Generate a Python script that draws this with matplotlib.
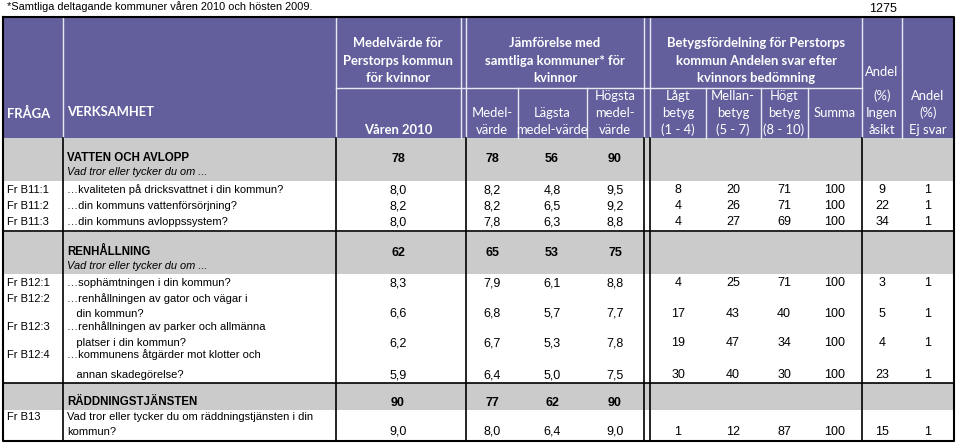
import matplotlib
matplotlib.use("Agg")
import matplotlib.pyplot as plt
from matplotlib.patches import Rectangle

# ---------------- data ----------------
footnote = "*Samtliga deltagande kommuner våren 2010 och hösten 2009."
n_respondents = "1275"

section_titles = ["VATTEN OCH AVLOPP", "RENHÅLLNING", "RÄDDNINGSTJÄNSTEN"]
section_subtitle = ["Vad tror eller tycker du om ...", "Vad tror eller tycker du om ...", ""]
section_index = [78, 62, 90]
section_mean = [78, 65, 77]
section_low = [56, 53, 62]
section_high = [90, 75, 90]

question_codes = ["Fr B11:1", "Fr B11:2", "Fr B11:3", "Fr B12:1",
                  "Fr B12:2", "Fr B12:3", "Fr B12:4", "Fr B13"]
question_texts = [
    ["…kvaliteten på dricksvattnet i din kommun?"],
    ["…din kommuns vattenförsörjning?"],
    ["…din kommuns avloppssystem?"],
    ["…sophämtningen i din kommun?"],
    ["…renhållningen av gator och vägar i", "   din kommun?"],
    ["…renhållningen av parker och allmänna", "   platser i din kommun?"],
    ["…kommunens åtgärder mot klotter och", "   annan skadegörelse?"],
    ["Vad tror eller tycker du om räddningstjänsten i din", "kommun?"],
]
perstorp = [8.0, 8.2, 8.0, 8.3, 6.6, 6.2, 5.9, 9.0]
mean_all = [8.2, 8.2, 7.8, 7.9, 6.8, 6.7, 6.4, 8.0]
low_all = [4.8, 6.5, 6.3, 6.1, 5.7, 5.3, 5.0, 6.4]
high_all = [9.5, 9.2, 8.8, 8.8, 7.7, 7.8, 7.5, 9.0]
lagt = [8, 4, 4, 4, 17, 19, 30, 1]
mellan = [20, 26, 27, 25, 43, 47, 40, 12]
hogt = [71, 71, 69, 71, 40, 34, 30, 87]
summa = [100, 100, 100, 100, 100, 100, 100, 100]
ingen_asikt = [9, 22, 34, 3, 5, 4, 23, 15]
ej_svar = [1, 1, 1, 1, 1, 1, 1, 1]

# ---------------- layout ----------------
W, H = 960, 443
PURPLE = "#635f9d"
GRAY = "#cbcbcb"
HFONT = "Lato"
BFONT = "Liberation Sans"
HS = 9.4
BS = 8.0     # question text
VS = 9.0     # numbers

fig = plt.figure(figsize=(W / 100, H / 100), dpi=100)
ax = fig.add_axes([0, 0, 1, 1])
ax.set_xlim(0, W)
ax.set_ylim(H, 0)
ax.axis("off")

L, R = 3, 954
TOP, HBOT = 17, 138
BOT = 441
col_center = {"pers": 398, "mean": 492, "low": 552, "high": 615, "lagt": 678,
              "mellan": 733, "hogt": 784, "summa": 835, "ingen": 882, "ej": 928}

# header background
ax.add_patch(Rectangle((L, TOP), R - L, HBOT - TOP, color=PURPLE, lw=0, zorder=1))
wl = dict(color="#e8e8f0", lw=1.0, zorder=2)
for x in [62.7, 336, 460.7, 466, 644, 650, 862, 902]:
    ax.plot([x, x], [TOP, HBOT], **wl)
for x in [518, 587, 706, 761, 808]:
    ax.plot([x, x], [88, HBOT], **wl)
ax.plot([336, 862], [88, 88], **wl)

def htext(x, y, s, bold=False, ha="center"):
    ax.text(x, y, s, color="white", fontsize=HS, family=HFONT,
            fontweight="bold" if bold else "normal", ha=ha, va="center", zorder=5)

htext(7, 113, "FRÅGA", bold=True, ha="left")
htext(67, 112, "VERKSAMHET", bold=True, ha="left")
for y, s in zip([43, 61, 78], ["Medelvärde för", "Perstorps kommun", "för kvinnor"]):
    htext(398, y, s, bold=True)
htext(398, 130, "Våren 2010", bold=True)
for y, s in zip([43, 61, 78], ["Jämförelse med", "samtliga kommuner* för", "kvinnor"]):
    htext(555, y, s, bold=True)
for y, s in zip([43, 61, 78], ["Betygsfördelning för Perstorps",
                               "kommun Andelen svar efter", "kvinnors bedömning"]):
    htext(756, y, s, bold=True)
htext(492, 113, "Medel-"); htext(492, 130, "värde")
htext(552, 113, "Lägsta"); htext(552, 130, "medel-värde")
for y, s in zip([96, 113, 130], ["Högsta", "medel-", "värde"]):
    htext(615, y, s)
for cx, lines in [(678, ["Lågt", "betyg", "(1 - 4)"]),
                  (733, ["Mellan-", "betyg", "(5 - 7)"]),
                  (784, ["Högt", "betyg", "(8 - 10)"])]:
    for y, s in zip([96, 113, 130], lines):
        htext(cx, y, s)
htext(835, 113, "Summa")
for y, s in zip([72, 96, 113, 130], ["Andel", "(%)", "Ingen", "åsikt"]):
    htext(882, y, s)
for y, s in zip([96, 113, 130], ["Andel", "(%)", "Ej svar"]):
    htext(928, y, s)

# section bands
sec_band = [(138, 181), (232, 274), (383, 410)]
sec_title_y = [158, 252, 402]
sec_sub_y = [172, 266, None]
for (y0, y1) in sec_band:
    ax.add_patch(Rectangle((L, y0), R - L, y1 - y0, color=GRAY, lw=0, zorder=1))

def btext(x, y, s, ha="center", bold=False, italic=False, size=BS):
    ax.text(x, y, s, color="black", fontsize=size, family=BFONT,
            fontweight="bold" if bold else "normal",
            fontstyle="italic" if italic else "normal",
            ha=ha, va="center", zorder=5)

def fmt(v):
    return f"{v:.1f}".replace(".", ",")

for i in range(len(section_titles)):
    btext(67, sec_title_y[i], section_titles[i], ha="left", bold=True, size=8.3)
    if section_subtitle[i]:
        btext(67, sec_sub_y[i], section_subtitle[i], ha="left", italic=True, size=7.9)
    yv = sec_title_y[i] + 1
    for key, arr in [("pers", section_index), ("mean", section_mean),
                     ("low", section_low), ("high", section_high)]:
        btext(col_center[key], yv, str(arr[i]), bold=True, size=VS)

# question rows: y of each text line
row_lines = [[190], [206], [222], [283], [299, 314], [327, 343], [355, 375], [417, 432]]
for i, code in enumerate(question_codes):
    ys = row_lines[i]
    btext(7, ys[0], code, ha="left")
    for y, s in zip(ys, question_texts[i]):
        btext(67, y, s, ha="left")
    yv = ys[-1]
    cells = [("pers", fmt(perstorp[i])), ("mean", fmt(mean_all[i])),
             ("low", fmt(low_all[i])), ("high", fmt(high_all[i])),
             ("lagt", str(lagt[i])), ("mellan", str(mellan[i])),
             ("hogt", str(hogt[i])), ("summa", str(summa[i])),
             ("ingen", str(ingen_asikt[i])), ("ej", str(ej_svar[i]))]
    for key, s in cells:
        btext(col_center[key], yv, s, size=VS)

# black grid lines in data area
bl = dict(color="black", lw=1.2, zorder=3)
for x in [62.7, 336, 466, 644, 650, 862]:
    ax.plot([x, x], [HBOT, BOT], **bl)
for y in [231, 383]:
    ax.plot([L, R], [y, y], **bl)
# outer border
ax.plot([L, R, R, L, L], [TOP, TOP, BOT, BOT, TOP], color="black", lw=1.5, zorder=4)

# texts above the table
ax.text(7, 7, footnote, fontsize=7.9, family=BFONT, ha="left", va="center")
ax.text(883, 9, n_respondents, fontsize=9, family=BFONT, ha="center", va="center")

fig.savefig("out.png", dpi=100)
